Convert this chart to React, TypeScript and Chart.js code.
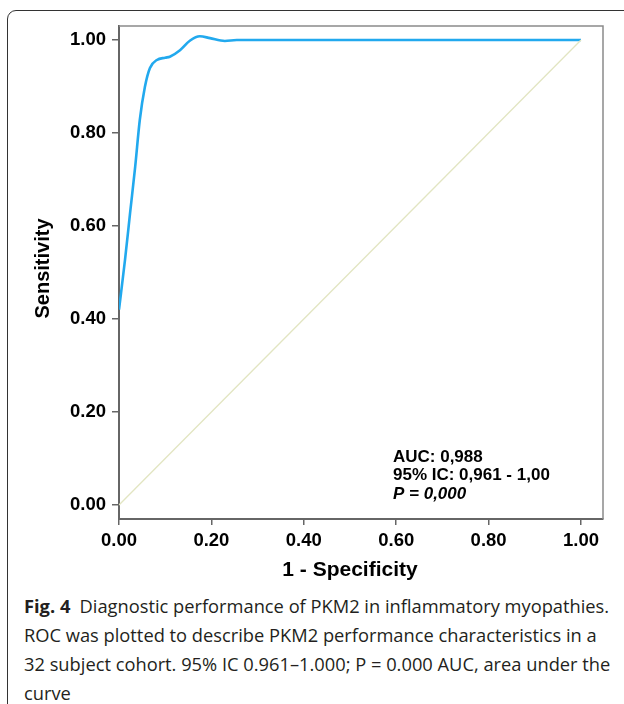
import React, { useEffect, useRef } from "react";
import { Chart, registerables } from "chart.js";

Chart.register(...registerables);

const rocFpr = [0, 0.013, 0.024, 0.035, 0.045, 0.056, 0.067, 0.082, 0.1, 0.11, 0.132, 0.154, 0.175, 0.197, 0.229, 0.255, 1.0];
const rocTpr = [0.42, 0.527, 0.628, 0.727, 0.828, 0.899, 0.94, 0.957, 0.962, 0.964, 0.978, 0.999, 1.008, 1.004, 0.998, 1.0, 1.0];
const refX = [0, 1];
const refY = [0, 1];
const tickValues = [0, 0.2, 0.4, 0.6, 0.8, 1.0];
const xTitle = "1 - Specificity";
const yTitle = "Sensitivity";
const annotLines = ["AUC: 0,988", "95% IC: 0,961 - 1,00", "P = 0,000"];
const captionBold = "Fig. 4";
const captionLines = [
  "Diagnostic performance of PKM2 in inflammatory myopathies.",
  "ROC was plotted to describe PKM2 performance characteristics in a",
  "32 subject cohort. 95% IC 0.961\u20131.000; P = 0.000 AUC, area under the",
  "curve",
];

const FONT = "'Liberation Sans', Arial, sans-serif";

export default function App() {
  const ref = useRef<HTMLCanvasElement | null>(null);
  useEffect(() => {
    const canvas = ref.current!;
    const overlay = {
      id: "overlay",
      afterDraw(chart: any) {
        const { ctx, chartArea, scales } = chart;
        ctx.save();
        ctx.strokeStyle = "#8a8a8a";
        ctx.lineWidth = 1.5;
        ctx.beginPath();
        ctx.moveTo(chartArea.left, chartArea.top);
        ctx.lineTo(chartArea.right, chartArea.top);
        ctx.lineTo(chartArea.right, chartArea.bottom);
        ctx.stroke();
        ctx.fillStyle = "#000";
        ctx.textBaseline = "alphabetic";
        ctx.textAlign = "left";
        const ax = scales.x.getPixelForValue(0.593);
        const ay = scales.y.getPixelForValue(0.093);
        annotLines.forEach((t, i) => {
          ctx.font = (i === 2 ? "italic " : "") + "bold 17px " + FONT;
          ctx.fillText(t, ax, ay + i * 18.5);
        });
        ctx.font = "bold 21px " + FONT;
        ctx.textAlign = "center";
        ctx.textBaseline = "middle";
        const cx = (scales.x.getPixelForValue(0) + scales.x.getPixelForValue(1)) / 2;
        ctx.fillText(xTitle, cx, 570);
        ctx.font = "bold 20px " + FONT;
        ctx.translate(43, (chartArea.top + chartArea.bottom) / 2 - 4);
        ctx.rotate(-Math.PI / 2);
        ctx.fillText(yTitle, 0, 0);
        ctx.restore();
      },
    };
    const tickFont = { family: FONT, size: 18.5, weight: "bold" as const };
    const chart = new Chart(canvas, {
      type: "scatter",
      data: {
        datasets: [
          {
            data: refX.map((x, i) => ({ x, y: refY[i] })),
            showLine: true,
            borderColor: "#e2e5c2",
            borderWidth: 1.3,
            pointRadius: 0,
            tension: 0,
          },
          {
            data: rocFpr.map((x, i) => ({ x, y: rocTpr[i] })),
            showLine: true,
            borderColor: "#22a9ee",
            borderWidth: 2.6,
            pointRadius: 0,
            cubicInterpolationMode: "monotone",
          },
        ],
      },
      options: {
        animation: false,
        responsive: false,
        maintainAspectRatio: false,
        layout: { padding: { left: 0, top: 26, right: 21, bottom: 0 } },
        plugins: { legend: { display: false }, tooltip: { enabled: false } },
        scales: {
          x: {
            type: "linear",
            min: 0,
            max: 1.0476,
            afterFit: (s: any) => { s.height = 71; },
            afterBuildTicks: (s: any) => { s.ticks = tickValues.map((v) => ({ value: v })); },
            ticks: {
              font: tickFont,
              color: "#000",
              padding: 5,
              maxRotation: 0,
              autoSkip: false,
              callback: (v: any) => Number(v).toFixed(2),
            },
            grid: { drawOnChartArea: false, drawTicks: true, tickLength: 6, color: "#666", lineWidth: 1.5 },
            border: { display: true, color: "#666", width: 2 },
          },
          y: {
            type: "linear",
            min: -0.0301,
            max: 1.0301,
            afterFit: (s: any) => { s.width = 119; },
            afterBuildTicks: (s: any) => { s.ticks = tickValues.map((v) => ({ value: v })); },
            ticks: {
              font: tickFont,
              color: "#000",
              padding: 6,
              autoSkip: false,
              callback: (v: any) => Number(v).toFixed(2),
            },
            grid: { drawOnChartArea: false, drawTicks: true, tickLength: 7, color: "#666", lineWidth: 1.5 },
            border: { display: true, color: "#666", width: 2 },
          },
        },
      },
      plugins: [overlay],
    } as any);
    return () => chart.destroy();
  }, []);

  return (
    <div style={{ position: "absolute", left: 0, top: 0, width: 624, height: 704, overflow: "hidden", background: "#fff" }}>
      <div
        style={{
          position: "absolute",
          left: 7,
          top: 10,
          width: 640,
          height: 720,
          border: "1.5px solid #333",
          borderRadius: 9,
          boxSizing: "border-box",
        }}
      />
      <canvas ref={ref} width={624} height={590} style={{ position: "absolute", left: 0, top: 0, width: 624, height: 590 }} />
      <div
        style={{
          position: "absolute",
          left: 24,
          top: 591,
          fontFamily: "'Open Sans', 'Noto Sans', sans-serif",
          fontSize: 18.3,
          lineHeight: "29px",
          color: "#231f20",
          whiteSpace: "nowrap",
        }}
      >
        {captionLines.map((l, i) => (
          <div key={i}>
            {i === 0 ? (
              <>
                <b>{captionBold}</b>
                {"\u2002"}
              </>
            ) : null}
            {l}
          </div>
        ))}
      </div>
    </div>
  );
}
